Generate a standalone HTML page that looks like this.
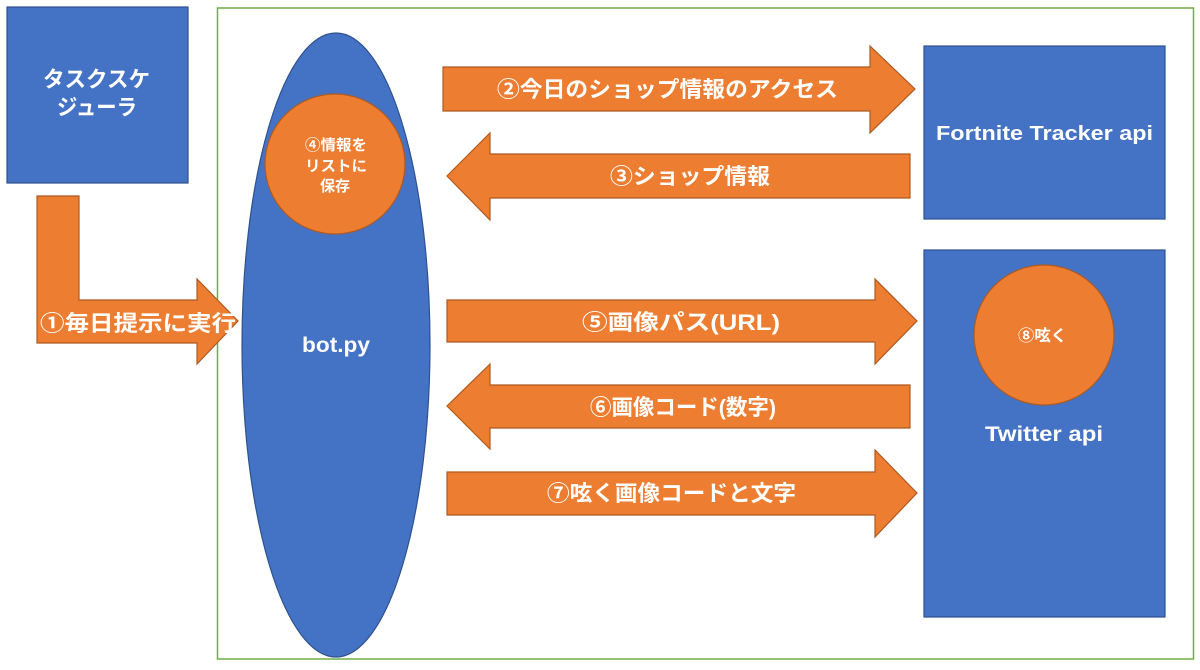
<!DOCTYPE html>
<html><head><meta charset="utf-8"><style>
html,body{margin:0;padding:0;background:#fff;width:1200px;height:670px;overflow:hidden}
svg text{font-family:"Liberation Sans","Noto Sans CJK JP",sans-serif;font-weight:bold;fill:#fff}
</style></head><body>
<svg width="1200" height="670" viewBox="0 0 1200 670" xmlns="http://www.w3.org/2000/svg">
<rect x="217.5" y="8" width="976" height="651" fill="none" stroke="#70ad47" stroke-width="1.5"/>
<g fill="#4472c4" stroke="#2f528f" stroke-width="1.2">
<rect x="7" y="7" width="181" height="176"/>
<rect x="924" y="46" width="241" height="173"/>
<rect x="924" y="250" width="241" height="367"/>
<ellipse cx="336" cy="345" rx="94" ry="312"/>
</g>
<g fill="#ed7d31" stroke="#ae5a21" stroke-width="1.2">
<path d="M37,196 H79 V300 H197 V279 L238,321 L197,364 V343 H37 Z"/>
<path d="M443,67 H870 V46 L915,89 L870,133 V111 H443 Z"/>
<path d="M910,154 H490 V133 L447,176 L490,220 V198 H910 Z"/>
<path d="M447,300 H875 V279 L917,321 L875,364 V342 H447 Z"/>
<path d="M910,385 H490 V364 L447,406 L490,449 V428 H910 Z"/>
<path d="M447,472 H875 V450 L917,493 L875,537 V515 H447 Z"/>
<circle cx="335" cy="164" r="70"/>
<circle cx="1044" cy="335" r="70"/>
</g>
<g lengthAdjust="spacingAndGlyphs">
<text x="43" y="87" font-size="22" textLength="107" lengthAdjust="spacingAndGlyphs">タスクスケ</text>
<text x="57" y="115" font-size="22" textLength="80" lengthAdjust="spacingAndGlyphs">ジューラ</text>
<text x="40" y="331" font-size="22" textLength="196" lengthAdjust="spacingAndGlyphs">①毎日提示に実行</text>
<text x="497" y="97" font-size="22" textLength="341" lengthAdjust="spacingAndGlyphs">②今日のショップ情報のアクセス</text>
<text x="610" y="184" font-size="22" textLength="160" lengthAdjust="spacingAndGlyphs">③ショップ情報</text>
<text x="582" y="330" font-size="22" textLength="198" lengthAdjust="spacingAndGlyphs">⑤画像パス(URL)</text>
<text x="590" y="415" font-size="22" textLength="186" lengthAdjust="spacingAndGlyphs">⑥画像コード(数字)</text>
<text x="547" y="501" font-size="22" textLength="249" lengthAdjust="spacingAndGlyphs">⑦呟く画像コードと文字</text>
<text x="936" y="140" font-size="20" textLength="217" lengthAdjust="spacingAndGlyphs">Fortnite Tracker api</text>
<text x="985" y="441" font-size="21" textLength="118" lengthAdjust="spacingAndGlyphs">Twitter api</text>
<text x="1018" y="341" font-size="16" textLength="49" lengthAdjust="spacingAndGlyphs">⑧呟く</text>
<text x="302" y="352" font-size="21" textLength="68" lengthAdjust="spacingAndGlyphs">bot.py</text>
<text x="305" y="150" font-size="15" textLength="62" lengthAdjust="spacingAndGlyphs">④情報を</text>
<text x="305" y="171" font-size="15" textLength="62" lengthAdjust="spacingAndGlyphs">リストに</text>
<text x="335" y="191" font-size="15" text-anchor="middle">保存</text>
</g>
</svg>
</body></html>
